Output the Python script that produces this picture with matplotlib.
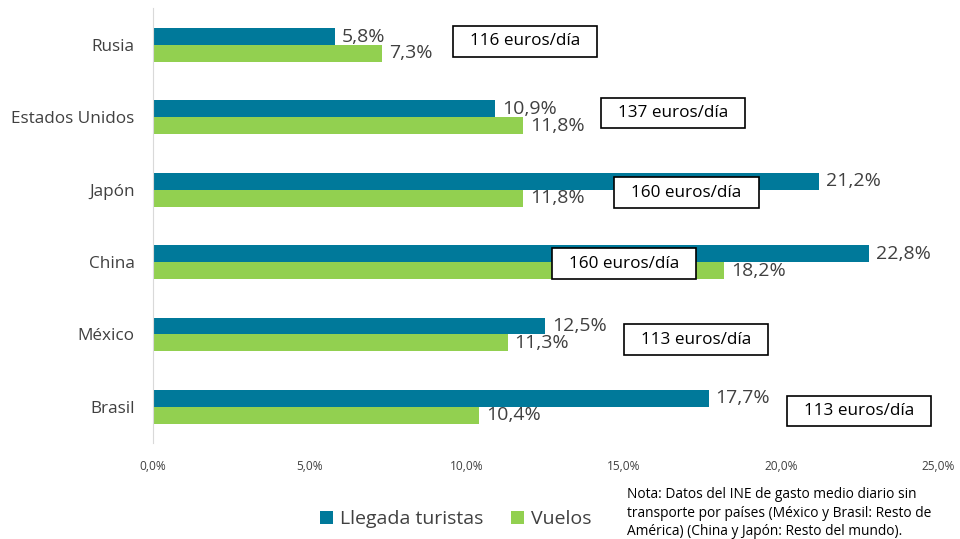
import matplotlib.pyplot as plt
from matplotlib.patches import Rectangle
from matplotlib.ticker import FuncFormatter
import numpy as np

plt.rcParams['font.family'] = ['Open Sans', 'DejaVu Sans']

# Data
paises = ['Rusia', 'Estados Unidos', 'Japón', 'China', 'México', 'Brasil']
llegada = [5.8, 10.9, 21.2, 22.8, 12.5, 17.7]
vuelos = [7.3, 11.8, 11.8, 18.2, 11.3, 10.4]
gasto = [116, 137, 160, 160, 113, 113]

# where the boxes with daily spend sit (x left edge in %, y offset in rows)
caja_x = [9.55, 14.27, 14.7, 12.7, 15.0, 20.2]
caja_dy = [-0.05, -0.06, 0.04, 0.02, 0.07, 0.06]

azul = '#00799A'
verde = '#92D050'
gris = '#404040'

fig = plt.figure(figsize=(9.6, 5.39), dpi=100)
ax = fig.add_axes([0.159, 0.178, 0.818, 0.807])

y = np.arange(len(paises))
h = 0.234
b1 = ax.barh(y - h / 2, llegada, height=h, color=azul, label='Llegada turistas')
b2 = ax.barh(y + h / 2, vuelos, height=h, color=verde, label='Vuelos')

fmt = lambda v: f'{v:.1f}%'.replace('.', ',')
ax.bar_label(b1, labels=[fmt(v) for v in llegada], padding=5, fontsize=14, color=gris)
ax.bar_label(b2, labels=[fmt(v) for v in vuelos], padding=5, fontsize=14, color=gris)

# boxes with euros/dia
w_box = 4.59
h_box = 0.42
for i, g in enumerate(gasto):
    cy = i + caja_dy[i]
    ax.add_patch(Rectangle((caja_x[i], cy - h_box / 2), w_box, h_box,
                           facecolor='white', edgecolor='black', lw=1.2, zorder=5))
    ax.text(caja_x[i] + w_box / 2, cy, f'{g} euros/día', ha='center', va='center',
            fontsize=12.3, color='black', zorder=6)

ax.set_xlim(0, 25)
ax.set_ylim(len(paises) - 0.5, -0.51)
ax.set_xticks(np.arange(0, 25.1, 5))
ax.xaxis.set_major_formatter(FuncFormatter(lambda v, p: f'{v:.1f}%'.replace('.', ',')))
ax.tick_params(axis='x', length=0, labelsize=8.6, labelcolor=gris, pad=12)
ax.tick_params(axis='y', length=0, labelsize=12.3, labelcolor=gris, pad=13)
ax.set_yticks(y)
ax.set_yticklabels(paises)

for s in ['top', 'right', 'bottom']:
    ax.spines[s].set_visible(False)
ax.spines['left'].set_color('#D9D9D9')

fig.legend(handles=[b1, b2], loc='center', bbox_to_anchor=(0.475, 0.037), ncol=2,
           frameon=False, fontsize=14, handlelength=0.65, handleheight=0.65,
           handletextpad=0.4, columnspacing=1.4, labelcolor=gris)

fig.text(0.653, 0.0, 'Nota: Datos del INE de gasto medio diario sin\n'
         'transporte por países (México y Brasil: Resto de\n'
         'América) (China y Japón: Resto del mundo).',
         fontsize=9.9, color='black', va='bottom', ha='left', linespacing=1.3)

fig.savefig('out.png', dpi=100)
